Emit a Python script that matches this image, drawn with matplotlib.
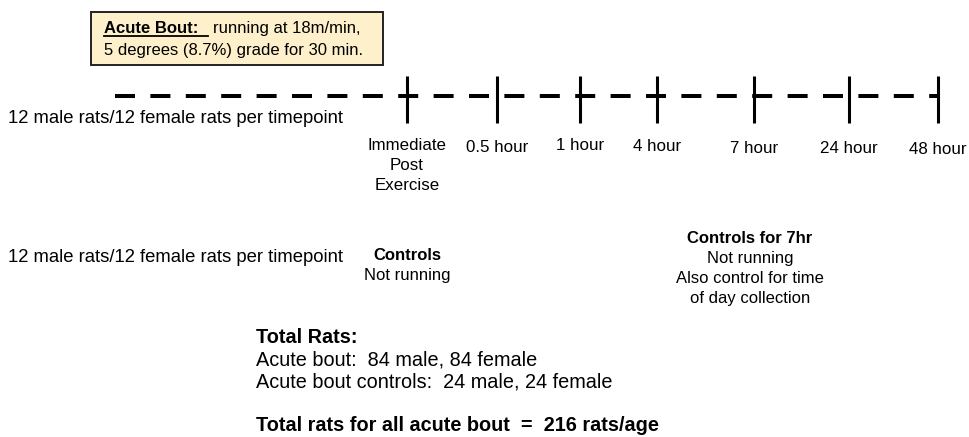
import matplotlib.pyplot as plt
from matplotlib.patches import Rectangle

plt.rcParams['font.family'] = ['Liberation Sans', 'DejaVu Sans']

# timepoints on the schematic
timepoints = ["Immediate\nPost\nExercise", "0.5 hour", "1 hour", "4 hour",
              "7 hour", "24 hour", "48 hour"]
tick_x = [407, 497, 580, 657, 754, 849, 938]
label_dy = [0, 2, 0, 1, 3, 3, 4]

group_text = "12 male rats/12 female rats per timepoint"
bout_title = "Acute Bout:"
bout_rest = "running at 18m/min,"
bout_line2 = "5 degrees (8.7%) grade for 30 min."

controls_lines = ["Controls", "Not running"]
controls7_lines = ["Controls for 7hr", "Not running", "Also control for time",
                   "of day collection"]

totals_title = "Total Rats:"
totals_lines = ["Acute bout:  84 male, 84 female",
                "Acute bout controls:  24 male, 24 female"]
totals_final = "Total rats for all acute bout  =  216 rats/age"

fig = plt.figure(figsize=(9.7, 4.37), dpi=100)
ax = fig.add_axes([0, 0, 1, 1])
ax.set_xlim(0, 970)
ax.set_ylim(437, 0)
ax.axis('off')

# box at the top
ax.add_patch(Rectangle((91, 12), 292, 53, facecolor='#fdf0cb',
                       edgecolor='#222222', lw=1.4))
ax.text(104, 33, bout_title, fontsize=12, fontweight='bold', va='baseline')
ax.plot([104, 208], [36, 36], color='black', lw=1.3)
ax.text(213, 33, bout_rest, fontsize=12, va='baseline')
ax.text(104, 55, bout_line2, fontsize=12, va='baseline')

# dashed timeline with ticks
ax.plot([115, tick_x[-1]], [96, 96], color='black', lw=2.88,
        linestyle=(0, (5.0, 3.85)), solid_capstyle='butt', dash_capstyle='butt')
for x, lab, dy in zip(tick_x, timepoints, label_dy):
    ax.plot([x, x], [76, 123], color='black', lw=2.2, solid_capstyle='butt')
    for j, part in enumerate(lab.split("\n")):
        ax.text(x, 150 + dy + 20 * j, part, fontsize=12.2, ha='center',
                va='baseline')

ax.text(8, 123, group_text, fontsize=13.3, va='baseline')

# controls row
ax.text(8, 262, group_text, fontsize=13.3, va='baseline')
for j, line in enumerate(controls_lines):
    ax.text(407, 260 + 20 * j, line, fontsize=12, ha='center', va='baseline',
            fontweight='bold' if j == 0 else 'normal')
for j, line in enumerate(controls7_lines):
    ax.text(750, 243 + 20 * j, line, fontsize=12, ha='center', va='baseline',
            fontweight='bold' if j == 0 else 'normal')

# totals
ax.text(256, 343, totals_title, fontsize=14.3, fontweight='bold', va='baseline')
for i, line in enumerate(totals_lines):
    ax.text(256, 365 + 22 * i, line, fontsize=14.3, va='baseline')
ax.text(256, 431, totals_final, fontsize=14.3, fontweight='bold', va='baseline')

fig.savefig('out.png', dpi=100)
